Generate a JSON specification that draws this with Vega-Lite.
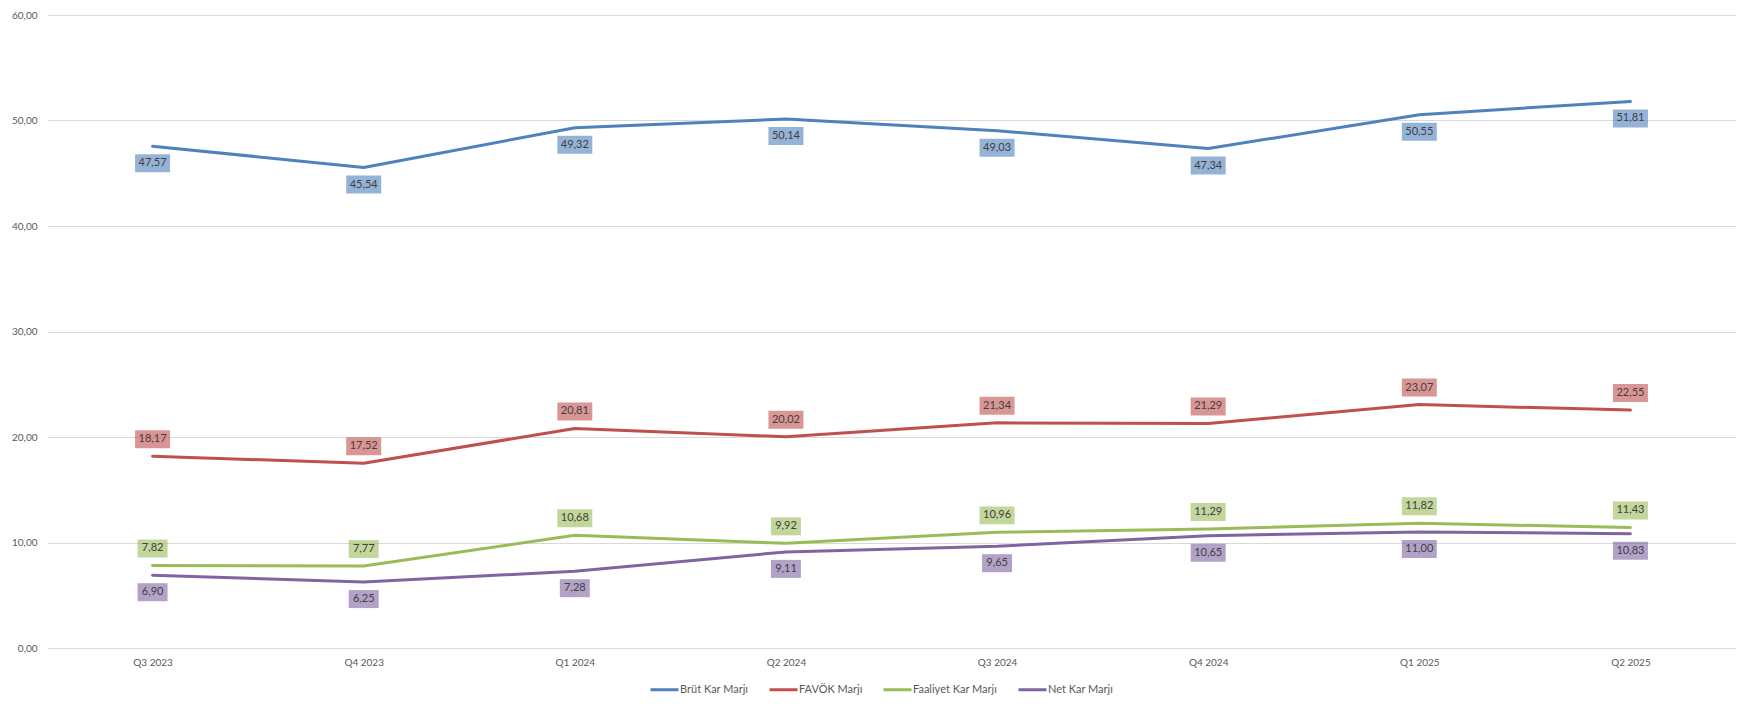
{
  "$schema": "https://vega.github.io/schema/vega-lite/v6.json",
  "autosize": {"type": "none"},
  "padding": {"left": 47, "top": 15, "right": 14, "bottom": 62},
  "width": 1689,
  "height": 633,
  "background": "white",
  "data": {
    "values": [
      {"q": "Q3 2023", "s": "Brüt Kar Marjı", "v": 47.57},
      {"q": "Q4 2023", "s": "Brüt Kar Marjı", "v": 45.54},
      {"q": "Q1 2024", "s": "Brüt Kar Marjı", "v": 49.32},
      {"q": "Q2 2024", "s": "Brüt Kar Marjı", "v": 50.14},
      {"q": "Q3 2024", "s": "Brüt Kar Marjı", "v": 49.03},
      {"q": "Q4 2024", "s": "Brüt Kar Marjı", "v": 47.34},
      {"q": "Q1 2025", "s": "Brüt Kar Marjı", "v": 50.55},
      {"q": "Q2 2025", "s": "Brüt Kar Marjı", "v": 51.81},
      {"q": "Q3 2023", "s": "FAVÖK Marjı", "v": 18.17},
      {"q": "Q4 2023", "s": "FAVÖK Marjı", "v": 17.52},
      {"q": "Q1 2024", "s": "FAVÖK Marjı", "v": 20.81},
      {"q": "Q2 2024", "s": "FAVÖK Marjı", "v": 20.02},
      {"q": "Q3 2024", "s": "FAVÖK Marjı", "v": 21.34},
      {"q": "Q4 2024", "s": "FAVÖK Marjı", "v": 21.29},
      {"q": "Q1 2025", "s": "FAVÖK Marjı", "v": 23.07},
      {"q": "Q2 2025", "s": "FAVÖK Marjı", "v": 22.55},
      {"q": "Q3 2023", "s": "Faaliyet Kar Marjı", "v": 7.82},
      {"q": "Q4 2023", "s": "Faaliyet Kar Marjı", "v": 7.77},
      {"q": "Q1 2024", "s": "Faaliyet Kar Marjı", "v": 10.68},
      {"q": "Q2 2024", "s": "Faaliyet Kar Marjı", "v": 9.92},
      {"q": "Q3 2024", "s": "Faaliyet Kar Marjı", "v": 10.96},
      {"q": "Q4 2024", "s": "Faaliyet Kar Marjı", "v": 11.29},
      {"q": "Q1 2025", "s": "Faaliyet Kar Marjı", "v": 11.82},
      {"q": "Q2 2025", "s": "Faaliyet Kar Marjı", "v": 11.43},
      {"q": "Q3 2023", "s": "Net Kar Marjı", "v": 6.90},
      {"q": "Q4 2023", "s": "Net Kar Marjı", "v": 6.25},
      {"q": "Q1 2024", "s": "Net Kar Marjı", "v": 7.28},
      {"q": "Q2 2024", "s": "Net Kar Marjı", "v": 9.11},
      {"q": "Q3 2024", "s": "Net Kar Marjı", "v": 9.65},
      {"q": "Q4 2024", "s": "Net Kar Marjı", "v": 10.65},
      {"q": "Q1 2025", "s": "Net Kar Marjı", "v": 11.00},
      {"q": "Q2 2025", "s": "Net Kar Marjı", "v": 10.83}
    ]
  },
  "encoding": {
    "x": {
      "field": "q",
      "type": "nominal",
      "sort": null,
      "title": null,
      "scale": {"type": "point", "padding": 0.5},
      "axis": {"labelAngle": 0, "domain": false, "ticks": false, "grid": false, "labelPadding": 9}
    },
    "y": {
      "field": "v",
      "type": "quantitative",
      "title": null,
      "scale": {"domain": [0, 60]},
      "axis": {"values": [0, 10, 20, 30, 40, 50, 60], "format": ".2f", "domain": false, "ticks": false, "labelPadding": 10}
    }
  },
  "layer": [
    {
      "mark": {"type": "line", "strokeWidth": 3, "strokeCap": "round", "strokeJoin": "round"},
      "encoding": {
        "color": {
          "field": "s",
          "type": "nominal",
          "sort": null,
          "scale": {
            "domain": ["Brüt Kar Marjı", "FAVÖK Marjı", "Faaliyet Kar Marjı", "Net Kar Marjı"],
            "range": ["#4F81BD", "#C0504D", "#9BBB59", "#8064A2"]
          },
          "legend": {
            "title": null,
            "orient": "none",
            "direction": "horizontal",
            "legendX": 602,
            "legendY": 659,
            "symbolType": "stroke",
            "symbolSize": 784,
            "symbolStrokeWidth": 3,
            "labelOffset": 0,
            "columnPadding": 14,
            "padding": 0
          }
        }
      }
    },
    {
      "transform": [{"filter": {"field": "s", "oneOf": ["FAVÖK Marjı", "Faaliyet Kar Marjı"]}}],
      "mark": {"type": "point", "filled": true, "opacity": 0.6, "strokeWidth": 0, "yOffset": -17},
      "encoding": {
        "fill": {
          "field": "s",
          "type": "nominal",
          "scale": {
            "domain": ["Brüt Kar Marjı", "FAVÖK Marjı", "Faaliyet Kar Marjı", "Net Kar Marjı"],
            "range": ["#4F81BD", "#C0504D", "#9BBB59", "#8064A2"]
          },
          "legend": null
        },
        "shape": {"condition": {"test": "datum.v >= 10", "value": "M-1,-0.514L1,-0.514L1,0.514L-1,0.514Z"}, "value": "M-1,-0.6L1,-0.6L1,0.6L-1,0.6Z"},
        "size": {"condition": {"test": "datum.v >= 10", "value": 1225}, "value": 900}
      }
    },
    {
      "transform": [{"filter": {"field": "s", "oneOf": ["FAVÖK Marjı", "Faaliyet Kar Marjı"]}}],
      "mark": {"type": "text", "font": "Lato", "fontSize": 11, "color": "#404040", "baseline": "middle", "align": "center", "yOffset": -17},
      "encoding": {"text": {"field": "v", "type": "quantitative", "format": ".2f"}}
    },
    {
      "transform": [{"filter": {"field": "s", "oneOf": ["Brüt Kar Marjı", "Net Kar Marjı"]}}],
      "mark": {"type": "point", "filled": true, "opacity": 0.6, "strokeWidth": 0, "yOffset": 17},
      "encoding": {
        "fill": {
          "field": "s",
          "type": "nominal",
          "scale": {
            "domain": ["Brüt Kar Marjı", "FAVÖK Marjı", "Faaliyet Kar Marjı", "Net Kar Marjı"],
            "range": ["#4F81BD", "#C0504D", "#9BBB59", "#8064A2"]
          },
          "legend": null
        },
        "shape": {"condition": {"test": "datum.v >= 10", "value": "M-1,-0.514L1,-0.514L1,0.514L-1,0.514Z"}, "value": "M-1,-0.6L1,-0.6L1,0.6L-1,0.6Z"},
        "size": {"condition": {"test": "datum.v >= 10", "value": 1225}, "value": 900}
      }
    },
    {
      "transform": [{"filter": {"field": "s", "oneOf": ["Brüt Kar Marjı", "Net Kar Marjı"]}}],
      "mark": {"type": "text", "font": "Lato", "fontSize": 11, "color": "#404040", "baseline": "middle", "align": "center", "yOffset": 17},
      "encoding": {"text": {"field": "v", "type": "quantitative", "format": ".2f"}}
    }
  ],
  "config": {
    "locale": {"number": {"decimal": ",", "thousands": ".", "grouping": [3], "currency": ["", " TL"]}},
    "view": {"stroke": null},
    "axis": {
      "labelFont": "Lato",
      "labelFontSize": 10,
      "labelColor": "#595959",
      "gridColor": "#D9D9D9",
      "gridWidth": 1
    },
    "legend": {
      "labelFont": "Lato",
      "labelFontSize": 11,
      "labelColor": "#595959"
    }
  }
}
